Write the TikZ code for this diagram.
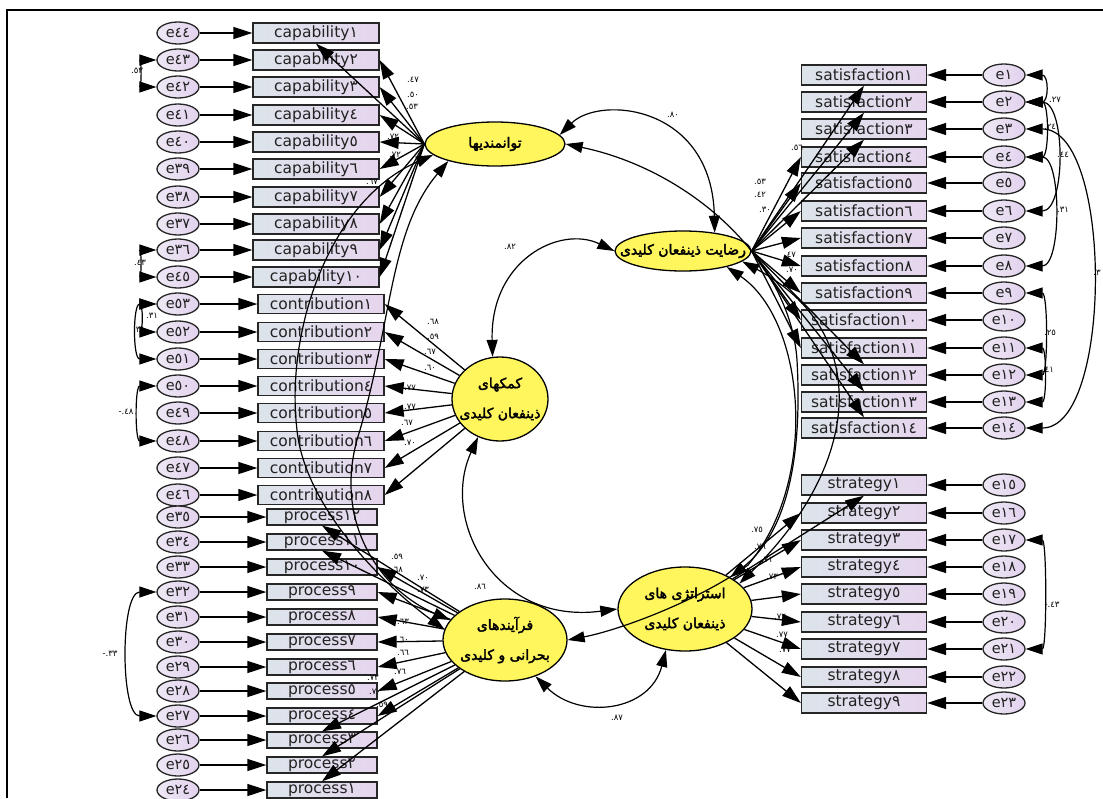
\documentclass[tikz,border=0pt]{standalone}
\usepackage{fontspec}
\setmainfont{DejaVu Sans}
\newfontfamily\arabicfont[Script=Arabic,AutoFakeBold=2.5]{DejaVu Sans}
\TeXXeTstate=1
\usepackage{tikz}
\usetikzlibrary{shapes.geometric,arrows.meta}
\definecolor{SEMYellow}{HTML}{FFF65E}
\definecolor{SEMBoxL}{HTML}{DCE4EA}
\definecolor{SEMBoxR}{HTML}{E6D5EE}
\definecolor{SEMErrL}{HTML}{EEE8F4}
\definecolor{SEMErrR}{HTML}{E2D2EE}
\definecolor{SEMText}{HTML}{222222}
\tikzset{
  obs/.style={draw=black!85,line width=1.3pt,left color=SEMBoxL,right color=SEMBoxR,inner sep=0pt,font=\fontsize{15.5}{15}\selectfont,text=SEMText},
  err/.style={ellipse,draw=black!85,line width=1.3pt,left color=SEMErrL,right color=SEMErrR,minimum width=42pt,minimum height=22pt,inner sep=0pt,font=\fontsize{14.5}{14}\selectfont,text=SEMText},
  lat/.style={ellipse,draw=black,line width=1.3pt,fill=SEMYellow,inner sep=0pt},
  lattxt/.style={align=center,inner sep=0pt,font=\arabicfont\bfseries\fontsize{14}{30}\selectfont},
  load/.style={-{Triangle[length=19pt,width=12pt]},line width=1.3pt},
  cov/.style={{Triangle[length=17pt,width=11pt]}-{Triangle[length=17pt,width=11pt]},line width=1.2pt},
  coef/.style={inner sep=0pt,font=\fontsize{8.5}{8.5}\selectfont}
}

\begin{document}
\begin{tikzpicture}[x=1pt,y=-1pt]
\useasboundingbox (0,0) rectangle (1103,798);
\draw[line width=1.6pt] (7,798) -- (7,10) -- (1103,10);

% latent variables
\node[lat,minimum width=140pt,minimum height=44pt] (tav) at (495,144) {};
\node[lat,minimum width=136pt,minimum height=40pt] (rez) at (683,251) {};
\node[lat,minimum width=96pt,minimum height=84pt] (kom) at (500,399) {};
\node[lat,minimum width=124pt,minimum height=82pt] (far) at (505,640) {};
\node[lat,minimum width=134pt,minimum height=84pt] (est) at (685,609) {};
\node[lattxt] (tavtxt) at (tav) {\beginR توانمندیها\endR};
\node[lattxt] (reztxt) at (rez) {\beginR رضایت ذینفعان کلیدی\endR};
\node[lattxt] (komtxt) at (kom) {\beginR کمکهای\endR\\\beginR ذینفعان کلیدی\endR};
\node[lattxt] (fartxt) at (far) {\beginR فرآیندهای\endR\\\beginR بحرانی و کلیدی\endR};
\node[lattxt] (esttxt) at (est) {\beginR استراتژی های\endR\\\beginR ذینفعان کلیدی\endR};

% left indicators
\foreach \i/\y/\d/\n/\nd in {1/33/١/44/٤٤, 2/60/٢/43/٤٣, 3/87/٣/42/٤٢, 4/115/٤/41/٤١, 5/142/٥/40/٤٠, 6/169/٦/39/٣٩, 7/197/٧/38/٣٨, 8/224/٨/37/٣٧, 9/250/٩/36/٣٦, 10/277/١٠/45/٤٥} {
  \node[obs,minimum width=126pt,minimum height=20pt] (cap\i) at (316,\y) {capability\d};
  \node[err] (e\n) at (178,\y) {e\nd};
  \draw[load] (e\n) -- (cap\i);
}
\foreach \i/\y/\d/\n/\nd in {1/304/١/53/٥٣, 2/332/٢/52/٥٢, 3/359/٣/51/٥١, 4/386/٤/50/٥٠, 5/413/٥/49/٤٩, 6/441/٦/48/٤٨, 7/468/٧/47/٤٧, 8/495/٨/46/٤٦} {
  \node[obs,minimum width=126pt,minimum height=19pt] (con\i) at (321,\y) {contribution\d};
  \node[err] (e\n) at (178,\y) {e\nd};
  \draw[load] (e\n) -- (con\i);
}
\foreach \i/\y/\d/\n/\nd in {12/517/١٢/35/٣٥, 11/542/١١/34/٣٤, 10/567/١٠/33/٣٣, 9/592/٩/32/٣٢, 8/617/٨/31/٣١, 7/642/٧/30/٣٠, 6/667/٦/29/٢٩, 5/691/٥/28/٢٨, 4/716/٤/27/٢٧, 3/740/٣/26/٢٦, 2/765/٢/25/٢٥, 1/790/١/24/٢٤} {
  \node[obs,minimum width=110pt,minimum height=16pt] (pro\i) at (322,\y) {process\d};
  \node[err] (e\n) at (178,\y) {e\nd};
  \draw[load] (e\n) -- (pro\i);
}

% right indicators
\foreach \i/\y/\d in {1/75/١, 2/102/٢, 3/129/٣, 4/157/٤, 5/183/٥, 6/211/٦, 7/238/٧, 8/266/٨, 9/293/٩, 10/320/١٠, 11/348/١١, 12/375/١٢, 13/402/١٣, 14/428/١٤} {
  \node[obs,minimum width=125pt,minimum height=20pt] (sat\i) at (864,\y) {satisfaction\d};
  \node[err] (e\i) at (1004,\y) {e\d};
  \draw[load] (e\i) -- (sat\i);
}
\foreach \i/\y/\d/\n/\nd in {1/485/١/15/١٥, 2/513/٢/16/١٦, 3/540/٣/17/١٧, 4/567/٤/18/١٨, 5/594/٥/19/١٩, 6/622/٦/20/٢٠, 7/649/٧/21/٢١, 8/677/٨/22/٢٢, 9/703/٩/23/٢٣} {
  \node[obs,minimum width=125pt,minimum height=20pt] (str\i) at (864,\y) {strategy\d};
  \node[err] (e\n) at (1004,\y) {e\nd};
  \draw[load] (e\n) -- (str\i);
}

% loadings
\draw[load] (tav.west) -- (cap1.south);
\foreach \i in {2,...,10} \draw[load] (tav.west) -- (cap\i.east);
\foreach \i in {1,...,8} \draw[load] (kom) -- (con\i.east);
\foreach \i in {12,11} \draw[load] (far) -- (pro\i.south);
\foreach \i in {10,...,4} \draw[load] (far) -- (pro\i.east);
\foreach \i in {3,2,1} \draw[load] (far) -- (pro\i.north);
\foreach \i in {1,2,3} \draw[load] (rez.east) -- (sat\i.south);
\foreach \i in {4,...,11} \draw[load] (rez.east) -- (sat\i.west);
\foreach \i in {12,13,14} \draw[load] (rez.east) -- (sat\i.north);
\draw[load] (est) -- (str1.south);
\foreach \i in {2,...,9} \draw[load] (est) -- (str\i.west);

% latent covariances
\draw[cov] (tav.8) .. controls (600,95) and (712,105) .. (rez.30);
\draw[cov] (rez.west) .. controls (560,225) and (490,260) .. (kom.100);
\draw[cov] (kom.240) .. controls (440,520) and (495,625) .. (est.west);
\draw[cov] (far.-50) .. controls (580,720) and (650,712) .. (est.-115);
\draw[cov] (tav.east) .. controls (690,170) and (790,260) .. (797,360) .. controls (802,450) and (790,530) .. (est.35);
\draw[cov] (rez.-20) .. controls (805,320) and (820,480) .. (748,565) .. controls (700,600) and (620,630) .. (far.east);
\draw[cov] (rez.-10) .. controls (870,330) and (865,460) .. (est.25);
\draw[cov] (tav.190) .. controls (330,200) and (285,330) .. (297,430) .. controls (305,510) and (390,590) .. (far.170);
\draw[cov] (tav.200) .. controls (390,230) and (392,320) .. (360,430) .. controls (330,520) and (380,590) .. (far.160);

% error covariances
\draw[cov] (e43.west) to[out=180,in=180,looseness=1.4] (e42.west);
\draw[cov] (e36.west) to[out=180,in=180,looseness=1.4] (e45.west);
\draw[cov] (e53.west) to[out=180,in=180,looseness=1.2] (e52.west);
\draw[cov] (e53.west) to[out=180,in=180,looseness=1.1] (e51.west);
\draw[cov] (e50.west) to[out=180,in=180,looseness=1.0] (e48.west);
\draw[cov] (e32.west) to[out=180,in=180,looseness=0.75] (e27.west);
\draw[cov] (e1.east) to[out=0,in=0,looseness=2.2] (e2.east);
\draw[cov] (e2.east) to[out=0,in=0,looseness=1.1] (e4.east);
\draw[cov] (e2.east) to[out=0,in=0,looseness=0.95] (e6.east);
\draw[cov] (e4.east) to[out=0,in=0,looseness=0.85] (e8.east);
\draw[cov] (e3.east) to[out=0,in=0,looseness=0.75] (e14.east);
\draw[cov] (e9.east) to[out=0,in=0,looseness=0.7] (e12.east);
\draw[cov] (e11.east) to[out=0,in=0,looseness=1.0] (e13.east);
\draw[cov] (e17.east) to[out=0,in=0,looseness=0.5] (e21.east);

% estimates
\foreach \x/\y/\t [count=\k] in {137/71/.٥٣, 140/263/.٤٣, 152/316/.٣١, 139/330/.٣٨, 126/412/-.٤٨, 110/654/-.٣٣,
  1055/100/.٢٧, 1050/127/.٢٤, 1063/155/.٤٤, 1063/210/.٣١, 1097/273/.٣, 1050/333/.٢٥, 1048/370/.٤١, 1052/605/-.٤٣,
  673/115/.٨٠, 510/247/.٨٢, 480/587/.٨٦, 617/718/.٨٧,
  413/80/.٤٧, 413/95/.٥٠, 412/107/.٥٣, 393/137/.٧٢, 395/155/.٧٢, 372/182/.٦٧,
  433/322/.٦٨, 433/337/.٥٩, 430/352/.٦٧, 430/368/.٦٠, 410/388/.٧٧, 410/407/.٧٧, 407/423/.٦٧, 410/443/.٧٠,
  397/557/.٥٩, 397/570/.٦٨, 423/578/.٧٠, 423/590/.٧٣, 403/622/.٦٣, 403/640/.٦٠, 403/653/.٦٦, 400/672/.٧٦, 373/678/.٧٢, 375/692/.٧٠, 382/705/.٥٩,
  797/148/.٥٦, 760/182/.٥٣, 760/195/.٤٢, 765/210/.٣٠, 790/255/.٤٧, 792/270/.٧٠,
  757/530/.٧٥, 760/547/.٧٦, 767/560/.٧١, 772/577/.٧٣, 780/617/.٧٧, 782/635/.٧٧, 785/650/.٧٧}
  \node[coef] (est\k) at (\x,\y) {\t};
\end{tikzpicture}
\end{document}
